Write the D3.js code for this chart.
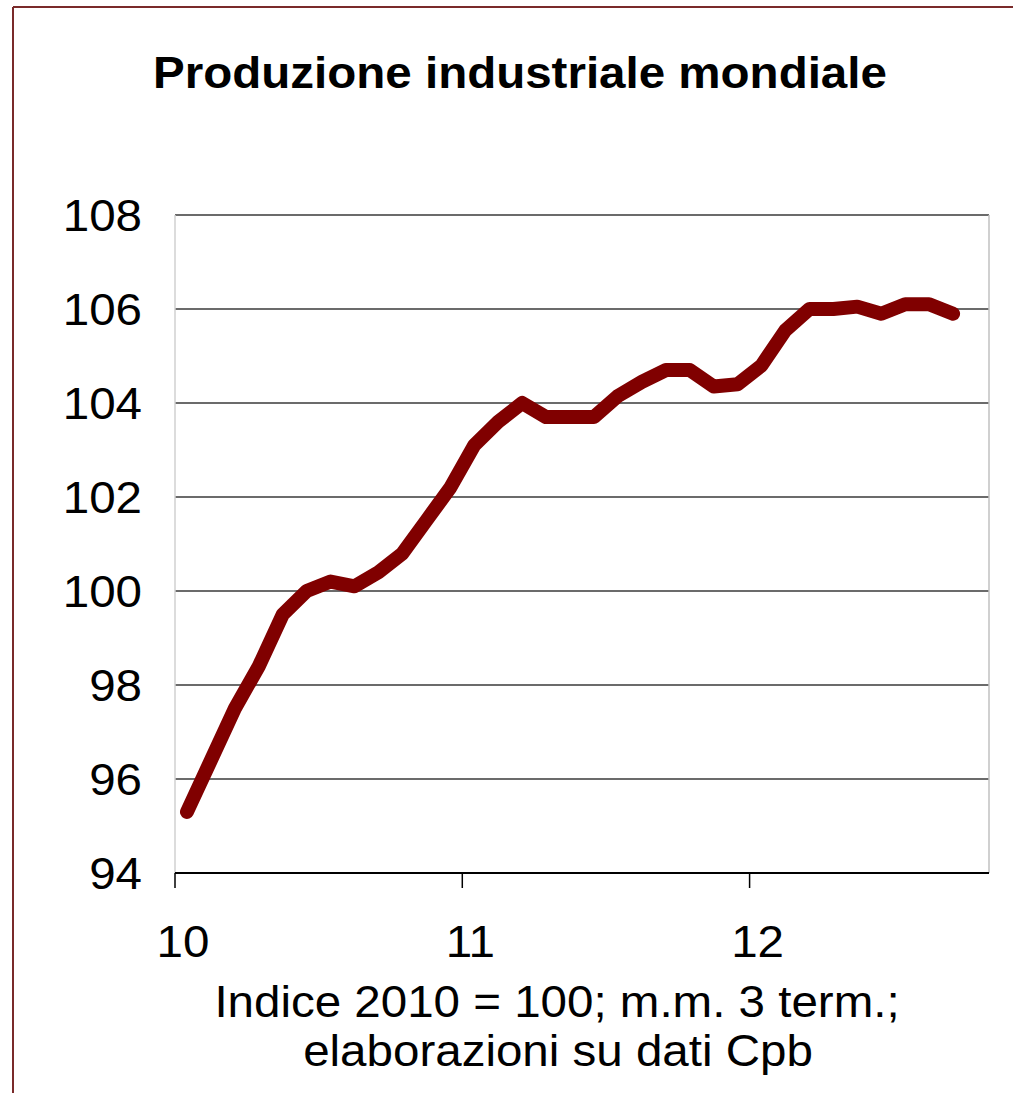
<!DOCTYPE html>
<html>
  <head>
    <meta charset="UTF-8" />
    <script src="https://cdnjs.cloudflare.com/ajax/libs/d3/7.8.5/d3.min.js"></script>
    <style>
      body {
        margin: 0;
        background: #fff;
      }
      text {
        font-family: "Liberation Sans", Arial, sans-serif;
        fill: #000;
      }
      .grid line {
        stroke: #3a3a3a;
        stroke-width: 1.5;
      }
      path.domain {
        stroke: none;
      }
    </style>
  </head>
  <body>
    <svg id="chart" width="1013" height="1093"></svg>
    <script>
      // monthly categories, Jan 2010 - Oct 2012 (last one has no value yet)
      let months = [];
      ["2010", "2011", "2012"].forEach(y => {
        for (let m = 1; m <= 12; m++) months.push(y + "-" + String(m).padStart(2, "0"));
      });
      months = months.slice(0, 34);

      let values = [
        95.3, 96.4, 97.5, 98.4, 99.5, 100.0, 100.2, 100.1, 100.4, 100.8, 101.5, 102.2,
        103.1, 103.6, 104.0, 103.7, 103.7, 103.7, 104.15, 104.45, 104.7, 104.7, 104.35, 104.4,
        104.8, 105.55, 106.0, 106.0, 106.05, 105.9, 106.1, 106.1, 105.9
      ];

      let yearTicks = ["2010-01", "2011-01", "2012-01"];
      let yearLabels = ["10", "11", "12"];
      let yTicks = [94, 96, 98, 100, 102, 104, 106, 108];

      let svg = d3.select("#chart");

      // the source picture is a bit wider than tall, stretch text to match
      function stretch(sel) {
        sel.each(function () {
          let t = d3.select(this);
          let x = +t.attr("x") || 0, y = +t.attr("y") || 0;
          t.attr("x", 0).attr("y", 0).attr("transform", `translate(${x},${y}) scale(1.08,1)`);
        });
      }

      // outer frame (top + left only visible)
      svg.append("line").attr("x1", 13).attr("y1", 7).attr("x2", 1013).attr("y2", 7)
        .attr("stroke", "#7a2a2a").attr("stroke-width", 2);
      svg.append("line").attr("x1", 13).attr("y1", 7).attr("x2", 13).attr("y2", 1093)
        .attr("stroke", "#7a2a2a").attr("stroke-width", 2);

      let plotL = 175, plotR = 989, plotT = 215, plotB = 873;

      let xScale = d3.scaleBand().domain(months).range([plotL, plotR]).padding(0);
      let yScale = d3.scaleLinear().domain([94, 108]).range([plotB, plotT]);

      // gridlines
      svg.append("g")
        .attr("class", "grid")
        .selectAll("line")
        .data(yTicks.slice(1))
        .enter()
        .append("line")
        .attr("x1", plotL)
        .attr("x2", plotR)
        .attr("y1", d => yScale(d))
        .attr("y2", d => yScale(d));

      // plot area sides
      svg.append("line").attr("x1", plotL).attr("x2", plotL).attr("y1", plotT).attr("y2", plotB)
        .attr("stroke", "#d0d0d0").attr("stroke-width", 1.5);
      svg.append("line").attr("x1", plotR).attr("x2", plotR).attr("y1", plotT).attr("y2", plotB)
        .attr("stroke", "#c0c0c0").attr("stroke-width", 1.5);

      // y axis labels
      let yAxis = d3.axisLeft(yScale).tickValues(yTicks).tickSize(0).tickPadding(33);
      svg.append("g")
        .attr("transform", `translate(${plotL},0)`)
        .call(yAxis)
        .call(g => g.selectAll("text").style("font-size", "44px").attr("dy", "0.35em").call(stretch));

      // x axis
      svg.append("line").attr("x1", plotL).attr("x2", plotR).attr("y1", plotB).attr("y2", plotB)
        .attr("stroke", "#000").attr("stroke-width", 2);
      let xg = svg.append("g");
      xg.selectAll("line.tick")
        .data(yearTicks)
        .enter()
        .append("line")
        .attr("x1", d => xScale(d))
        .attr("x2", d => xScale(d))
        .attr("y1", plotB)
        .attr("y2", plotB + 15)
        .attr("stroke", "#000")
        .attr("stroke-width", 1.5);
      xg.selectAll("text")
        .data(yearTicks)
        .enter()
        .append("text")
        .attr("x", d => xScale(d) + 8)
        .attr("y", 957)
        .attr("text-anchor", "middle")
        .style("font-size", "44px")
        .text((d, i) => yearLabels[i])
        .call(stretch);

      // series line
      let line = d3.line()
        .defined((d, i) => values[i] != null)
        .x(d => xScale(d) + xScale.bandwidth() / 2)
        .y((d, i) => yScale(values[i]));

      svg.append("path")
        .datum(months.slice(0, values.length))
        .attr("d", line)
        .attr("fill", "none")
        .attr("stroke", "#800000")
        .attr("stroke-width", 14)
        .attr("stroke-linejoin", "round")
        .attr("stroke-linecap", "round");

      // title and notes
      svg.append("text")
        .attr("x", 520)
        .attr("y", 88)
        .attr("text-anchor", "middle")
        .style("font-size", "44px")
        .style("font-weight", "bold")
        .text("Produzione industriale mondiale")
        .call(stretch);

      svg.append("text")
        .attr("x", 557)
        .attr("y", 1017)
        .attr("text-anchor", "middle")
        .style("font-size", "44px")
        .text("Indice 2010 = 100; m.m. 3 term.;")
        .call(stretch);
      svg.append("text")
        .attr("x", 558)
        .attr("y", 1066)
        .attr("text-anchor", "middle")
        .style("font-size", "44px")
        .text("elaborazioni su dati Cpb")
        .call(stretch);
    </script>
  </body>
</html>
